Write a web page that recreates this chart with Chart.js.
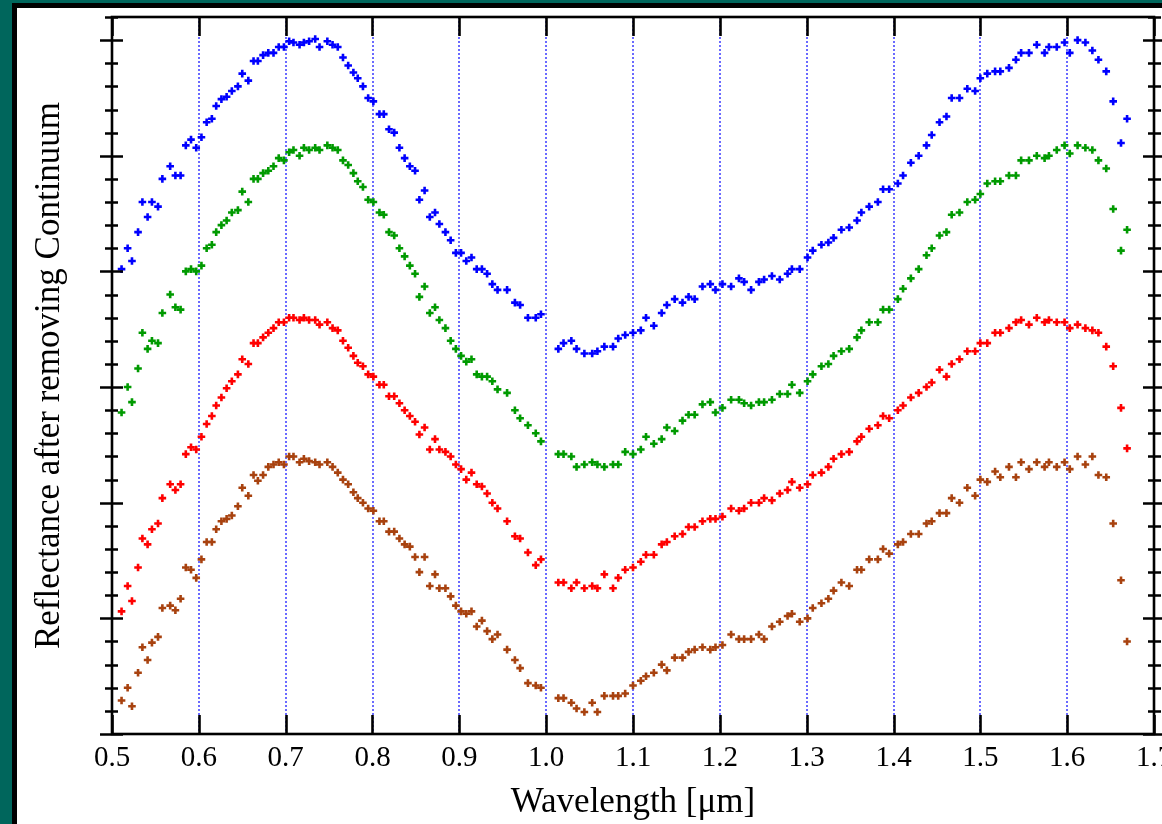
<!DOCTYPE html>
<html>
<head>
<meta charset="utf-8">
<script src="https://cdn.jsdelivr.net/npm/chart.js@4/dist/chart.umd.min.js"></script>
<style>
  html, body { margin: 0; padding: 0; width: 1162px; height: 824px; overflow: hidden; background: rgb(0,102,92); }
  #sheet { position: absolute; left: 12px; top: 3px; width: 2000px; height: 2000px; background: #fff;
           border-left: 5px solid #000; border-top: 5px solid #000; }
  #c { position: absolute; left: 0; top: 0; }
</style>
</head>
<body>
<div id="sheet"></div>
<canvas id="c" width="1162" height="824"></canvas>
<script>
// Wavelength grid (micrometres)
const wavelength = [
  0.511,0.518,0.523,0.530,0.535,0.541,0.546,0.553,0.558,0.567,
  0.573,0.579,0.585,0.591,0.597,0.603,0.609,0.615,0.620,0.626,
  0.632,0.638,0.645,0.650,0.657,0.663,0.668,0.674,0.680,0.686,
  0.692,0.698,0.704,0.709,0.716,0.721,0.727,0.734,0.739,0.748,
  0.754,0.760,0.766,0.772,0.778,0.783,0.789,0.795,0.801,0.808,
  0.813,0.819,0.825,0.831,0.837,0.843,0.849,0.854,0.860,0.866,
  0.872,0.877,0.884,0.890,0.896,0.902,0.908,0.914,0.920,0.926,
  0.932,0.938,0.944,0.955,0.964,0.970,0.979,0.988,0.994,
  1.014,1.020,1.029,1.035,1.044,1.053,1.059,1.067,1.077,1.083,1.091,
  1.100,1.109,1.115,1.124,1.133,1.139,1.148,1.157,1.164,1.171,
  1.180,1.189,1.195,1.203,1.213,1.222,1.228,1.236,1.245,1.251,
  1.260,1.269,1.278,1.283,1.292,1.301,1.307,1.317,1.325,1.331,
  1.340,1.349,1.358,1.363,1.372,1.382,1.388,1.395,1.405,1.411,
  1.420,1.429,1.438,1.444,1.453,1.461,1.467,1.476,1.485,1.494,
  1.500,1.508,1.517,1.523,1.533,1.541,1.547,1.556,1.565,1.574,
  1.579,1.588,1.597,1.603,1.612,1.621,1.629,1.636,1.645,1.653,
  1.662,1.669
];

// Reflectance after continuum removal (offset for display, arbitrary units)
const blueSpectrum = [
  4.02,4.20,4.09,4.34,4.60,4.47,4.60,4.56,4.80,4.91,
  4.83,4.83,5.09,5.14,5.07,5.16,5.29,5.32,5.43,5.49,
  5.51,5.56,5.60,5.71,5.65,5.82,5.82,5.87,5.89,5.89,
  5.94,5.94,5.99,5.98,5.96,5.98,5.99,6.01,5.94,5.99,
  5.96,5.94,5.85,5.78,5.72,5.67,5.60,5.50,5.47,5.36,
  5.36,5.23,5.20,5.07,4.98,4.91,4.87,4.62,4.70,4.47,
  4.51,4.41,4.34,4.27,4.16,4.16,4.09,4.12,4.02,4.02,
  3.98,3.89,3.84,3.84,3.73,3.71,3.60,3.60,3.63,
  3.33,3.38,3.40,3.33,3.29,3.29,3.31,3.35,3.35,3.42,3.45,
  3.47,3.49,3.60,3.53,3.64,3.71,3.76,3.73,3.78,3.76,
  3.87,3.89,3.84,3.89,3.87,3.94,3.91,3.84,3.91,3.93,
  3.96,3.93,3.98,4.02,4.02,4.12,4.18,4.23,4.25,4.29,
  4.36,4.38,4.44,4.51,4.56,4.60,4.71,4.71,4.76,4.83,
  4.94,5.00,5.09,5.18,5.29,5.34,5.50,5.50,5.58,5.56,
  5.67,5.71,5.73,5.73,5.76,5.83,5.89,5.89,5.96,5.89,
  5.94,5.94,5.98,5.89,6.00,5.98,5.91,5.83,5.73,5.47,
  5.11,5.32
];
const greenSpectrum = [
  2.78,3.00,2.87,3.16,3.47,3.33,3.40,3.38,3.64,3.80,
  3.69,3.67,4.00,4.02,4.00,4.05,4.20,4.23,4.34,4.40,
  4.44,4.51,4.53,4.69,4.60,4.80,4.80,4.85,4.87,4.91,
  4.98,4.96,5.03,5.05,5.00,5.07,5.05,5.07,5.05,5.09,
  5.07,5.05,4.96,4.92,4.85,4.78,4.73,4.62,4.60,4.51,
  4.49,4.34,4.31,4.20,4.13,4.05,3.98,3.78,3.87,3.64,
  3.69,3.58,3.51,3.40,3.33,3.27,3.22,3.24,3.11,3.09,
  3.09,3.05,2.98,2.95,2.80,2.73,2.67,2.60,2.53,
  2.42,2.42,2.40,2.31,2.33,2.35,2.33,2.31,2.33,2.33,2.44,
  2.42,2.46,2.57,2.51,2.55,2.65,2.62,2.71,2.76,2.76,
  2.85,2.87,2.78,2.82,2.89,2.89,2.86,2.84,2.87,2.87,
  2.89,2.94,2.94,3.02,2.95,3.05,3.11,3.18,3.20,3.27,
  3.31,3.33,3.43,3.49,3.56,3.56,3.67,3.67,3.76,3.85,
  3.94,4.02,4.14,4.20,4.31,4.34,4.49,4.51,4.60,4.62,
  4.67,4.76,4.78,4.78,4.83,4.83,4.96,4.96,5.00,4.98,
  5.00,5.05,5.09,5.02,5.09,5.07,5.05,4.96,4.89,4.54,
  4.18,4.36
];
const redSpectrum = [
  1.06,1.28,1.15,1.44,1.69,1.64,1.77,1.82,2.04,2.16,
  2.11,2.16,2.42,2.48,2.46,2.57,2.68,2.75,2.84,2.91,
  2.99,3.05,3.11,3.24,3.20,3.38,3.38,3.43,3.47,3.51,
  3.56,3.56,3.60,3.60,3.58,3.60,3.58,3.58,3.54,3.56,
  3.51,3.49,3.40,3.34,3.27,3.21,3.18,3.11,3.09,3.02,
  3.02,2.92,2.92,2.86,2.80,2.75,2.70,2.59,2.65,2.46,
  2.55,2.46,2.44,2.40,2.33,2.29,2.20,2.26,2.16,2.14,
  2.08,2.00,1.95,1.84,1.71,1.69,1.57,1.46,1.51,
  1.31,1.31,1.26,1.31,1.26,1.28,1.26,1.38,1.26,1.35,1.42,
  1.44,1.49,1.55,1.55,1.64,1.66,1.71,1.73,1.79,1.79,
  1.84,1.86,1.86,1.88,1.95,1.93,1.95,2.00,2.00,2.04,
  2.02,2.08,2.11,2.18,2.13,2.16,2.24,2.26,2.31,2.38,
  2.42,2.44,2.53,2.57,2.64,2.67,2.75,2.73,2.80,2.84,
  2.91,2.95,3.00,3.04,3.15,3.09,3.20,3.24,3.31,3.31,
  3.38,3.38,3.47,3.47,3.51,3.56,3.58,3.54,3.60,3.56,
  3.58,3.56,3.56,3.51,3.54,3.51,3.49,3.47,3.35,3.18,
  2.82,2.47
];
const brownSpectrum = [
  0.29,0.40,0.24,0.53,0.75,0.64,0.79,0.84,1.09,1.11,
  1.07,1.17,1.44,1.42,1.35,1.51,1.66,1.66,1.77,1.84,
  1.86,1.89,1.97,2.13,2.06,2.24,2.19,2.24,2.31,2.33,
  2.35,2.33,2.40,2.40,2.35,2.38,2.36,2.35,2.33,2.35,
  2.31,2.26,2.20,2.16,2.09,2.04,2.00,1.95,1.93,1.84,
  1.84,1.75,1.75,1.69,1.64,1.62,1.53,1.40,1.53,1.28,
  1.38,1.26,1.26,1.19,1.11,1.06,1.04,1.06,0.93,0.98,
  0.89,0.82,0.86,0.73,0.64,0.57,0.44,0.42,0.40,
  0.31,0.31,0.27,0.22,0.19,0.27,0.19,0.33,0.33,0.33,0.35,
  0.42,0.46,0.50,0.53,0.60,0.55,0.66,0.66,0.71,0.73,
  0.75,0.73,0.75,0.77,0.86,0.82,0.82,0.82,0.86,0.82,
  0.93,0.97,1.02,1.04,0.97,1.00,1.09,1.13,1.17,1.24,
  1.31,1.28,1.42,1.42,1.51,1.51,1.60,1.56,1.64,1.66,
  1.73,1.73,1.82,1.84,1.91,1.91,2.04,2.00,2.13,2.06,
  2.20,2.18,2.27,2.22,2.31,2.22,2.35,2.29,2.35,2.31,
  2.35,2.31,2.35,2.29,2.40,2.33,2.40,2.24,2.22,1.82,
  1.33,0.80
];

const seriesNames = ['Spectrum A', 'Spectrum B', 'Spectrum C', 'Spectrum D'];
const seriesColors = ['#0000ff', '#009a00', '#ff0000', '#a8420f'];
const seriesValues = [blueSpectrum, greenSpectrum, redSpectrum, brownSpectrum];

const xMin = 0.5, xMax = 1.7, xStep = 0.1;
const yMin = 0, yMax = 6.2, yMajor = 1, yMinor = 0.2;
const xTitle = 'Wavelength [μm]';
const yTitle = 'Reflectance after removing Continuum';

const serif = "'Liberation Serif', 'Times New Roman', Times, serif";

const datasets = seriesValues.map((vals, i) => ({
  label: seriesNames[i],
  data: wavelength.map((w, k) => ({ x: w, y: vals[k] })),
  showLine: false,
  pointStyle: 'cross',
  pointRadius: 3.8,
  pointHoverRadius: 3.8,
  pointBorderWidth: 2.6,
  borderColor: seriesColors[i],
  backgroundColor: seriesColors[i]
}));

const framePlugin = {
  id: 'frame',
  afterDatasetsDraw(chart) {
    const { ctx, chartArea: a, scales: { x, y } } = chart;
    ctx.save();
    ctx.strokeStyle = '#000';
    ctx.lineCap = 'butt';
    ctx.setLineDash([]);
    // x ticks (inward, top and bottom)
    ctx.lineWidth = 2.6;
    for (let v = xMin; v <= xMax + 1e-9; v += xStep) {
      const px = Math.round(x.getPixelForValue(v)) + 0.5;
      ctx.beginPath();
      ctx.moveTo(px, a.top); ctx.lineTo(px, a.top + 19);
      ctx.moveTo(px, a.bottom); ctx.lineTo(px, a.bottom - 19);
      ctx.stroke();
    }
    // y ticks (crossing the left and right axes)
    const n = Math.round((yMax - yMin) / yMinor);
    for (let i = 0; i <= n; i++) {
      const v = yMin + i * yMinor;
      const py = Math.round(y.getPixelForValue(v)) + 0.5;
      const major = Math.abs(v / yMajor - Math.round(v / yMajor)) < 1e-6;
      const out = major ? 12 : 7, inn = major ? 11 : 6;
      ctx.beginPath();
      ctx.moveTo(a.left - out, py); ctx.lineTo(a.left + inn, py);
      ctx.moveTo(a.right - inn, py); ctx.lineTo(a.right + out, py);
      ctx.stroke();
    }
    // frame
    ctx.strokeRect(a.left, a.top, a.right - a.left, a.bottom - a.top);
    ctx.restore();
  }
};

new Chart(document.getElementById('c'), {
  type: 'scatter',
  data: { datasets },
  options: {
    responsive: false,
    animation: false,
    events: [],
    layout: { padding: { top: 17, right: 8, left: 0, bottom: 0 } },
    plugins: { legend: { display: false }, tooltip: { enabled: false } },
    scales: {
      x: {
        type: 'linear',
        min: xMin, max: xMax,
        border: { display: false, dash: [2, 2] },
        grid: {
          drawTicks: false,
          color: 'rgba(90,90,255,0.9)',
          lineWidth: 2
        },
        ticks: {
          stepSize: xStep,
          autoSkip: false,
          maxRotation: 0,
          padding: 7,
          color: '#000',
          font: { family: serif, size: 29 },
          callback: v => Number(v).toFixed(1)
        },
        title: {
          display: true,
          text: xTitle,
          color: '#000',
          padding: 0,
          font: { family: serif, size: 35 }
        },
        afterFit(s) { s.height = 90; s.paddingLeft = 0; s.paddingRight = 0; }
      },
      y: {
        type: 'linear',
        min: yMin, max: yMax,
        border: { display: false },
        grid: { display: false, drawTicks: false },
        ticks: { display: false, stepSize: yMajor },
        title: {
          display: true,
          text: yTitle,
          color: '#000',
          padding: { top: 29, bottom: 0 },
          font: { family: serif, size: 35 }
        },
        afterFit(s) { s.width = 112; s.paddingTop = 0; s.paddingBottom = 0; }
      }
    }
  },
  plugins: [framePlugin]
});
</script>
</body>
</html>
